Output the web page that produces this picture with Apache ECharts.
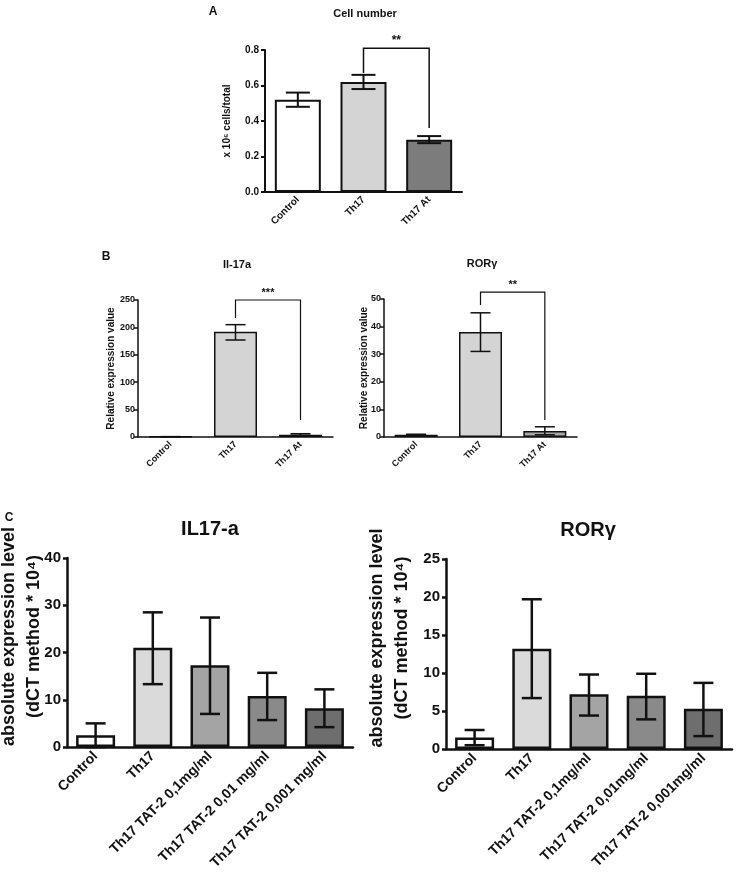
<!DOCTYPE html>
<html><head><meta charset="utf-8">
<script src="https://cdn.jsdelivr.net/npm/echarts/dist/echarts.min.js"></script>
<style>html,body{margin:0;padding:0;background:#fff}#c{width:740px;height:875px}</style>
</head><body><div id="c"></div><script>
// ---- Panel A: Cell number ----
const aCats = ['Control', 'Th17', 'Th17 At'];
const aVals = [0.52, 0.62, 0.295];
const aLow = [0.48, 0.58, 0.275];
const aHigh = [0.56, 0.66, 0.315];
const aTicks = [0, 0.2, 0.4, 0.6, 0.8];
const aBracket = [1, 2, 0.67, 0.81, 0.36];
// ---- Panel B left: Il-17a ----
const bCats = ['Control', 'Th17', 'Th17 At'];
const b1Vals = [0.5, 192, 4];
const b1Low = [0.3, 177, 3];
const b1High = [0.7, 205, 6];
const b1Ticks = [0, 50, 100, 150, 200, 250];
const b1Bracket = [1, 2, 217, 250, 31];
// ---- Panel B right: RORγ ----
const b2Vals = [0.8, 38, 2.2];
const b2Low = [0.6, 31, 0.8];
const b2High = [1.0, 45, 3.7];
const b2Ticks = [0, 10, 20, 30, 40, 50];
const b2Bracket = [1, 2, 47.8, 52.5, 6.2];
// ---- Panel C left: IL17-a ----
const c1Cats = ['Control', 'Th17', 'Th17 TAT-2 0,1mg/ml', 'Th17 TAT-2 0,01 mg/ml', 'Th17 TAT-2 0,001 mg/ml'];
const c1Vals = [2.5, 21, 17.3, 10.8, 8.2];
const c1Low = [0, 13.3, 7, 5.7, 4.2];
const c1High = [5, 28.5, 27.4, 15.7, 12.2];
const c1Ticks = [0, 10, 20, 30, 40];
// ---- Panel C right: RORγ ----
const c2Cats = ['Control', 'Th17', 'Th17 TAT-2 0,1mg/ml', 'Th17 TAT-2 0,01mg/ml', 'Th17 TAT-2 0,001mg/ml'];
const c2Vals = [1.5, 13.2, 7.2, 7.0, 5.3];
const c2Low = [0.5, 6.7, 4.4, 3.9, 1.7];
const c2High = [2.5, 19.7, 9.8, 9.9, 8.7];
const c2Ticks = [0, 5, 10, 15, 20, 25];

const FONT = '"Liberation Sans", Arial, Helvetica, sans-serif';
const INK = '#111';
const abColors = ['#ffffff', '#d4d4d4', '#7c7c7c'];
const b1Colors = ['#ffffff', '#d4d4d4', '#333333'];
const b2Colors = ['#ffffff', '#d4d4d4', '#a8a8a8'];
const cColors = ['#ffffff', '#dadada', '#a4a4a4', '#8a8a8a', '#6e6e6e'];

const chart = echarts.init(document.getElementById('c'), null, {renderer: 'canvas'});

function xAx(gi, cats, fs, lw, margin) {
  return {type: 'category', gridIndex: gi, data: cats,
    axisLine: {lineStyle: {color: INK, width: lw}},
    axisTick: {alignWithLabel: true, length: 4, lineStyle: {color: INK, width: lw}},
    axisLabel: {rotate: 45, fontSize: fs, fontWeight: 'bold', color: INK, fontFamily: FONT, margin: margin, interval: 0},
    splitLine: {show: false}};
}
function yAx(gi, ticks, fs, lw, lblMargin, name, nameFs, nameGap, fmt, lineH, pad) {
  const iv = ticks[1] - ticks[0];
  return {type: 'value', gridIndex: gi, min: ticks[0], max: ticks[ticks.length - 1], interval: iv,
    axisLine: {show: true, lineStyle: {color: INK, width: lw}},
    axisTick: {show: true, length: 4, lineStyle: {color: INK, width: lw}},
    axisLabel: {fontSize: fs, fontWeight: 'bold', color: INK, fontFamily: FONT, margin: lblMargin, formatter: fmt},
    splitLine: {show: false},
    name: name, nameLocation: 'middle', nameGap: nameGap, nameRotate: 90, nameMoveOverlap: false,
    nameTextStyle: {fontSize: nameFs, fontWeight: 'bold', color: INK, fontFamily: FONT, lineHeight: lineH, padding: pad || 0}};
}
function barS(gi, vals, colors, bw, borderW) {
  return {type: 'bar', xAxisIndex: gi, yAxisIndex: gi, barWidth: bw, silent: true,
    data: vals.map((v, i) => ({value: v, itemStyle: {color: colors[i]}})),
    itemStyle: {borderColor: INK, borderWidth: borderW}};
}
function errS(gi, lows, highs, capW, lw) {
  return {type: 'custom', xAxisIndex: gi, yAxisIndex: gi, z: 5, silent: true, clip: false,
    data: lows.map((l, i) => [i, l, highs[i]]),
    renderItem: (p, api) => {
      const x = api.value(0);
      const lo = api.coord([x, api.value(1)]);
      const hi = api.coord([x, api.value(2)]);
      const st = {stroke: INK, lineWidth: lw};
      return {type: 'group', children: [
        {type: 'line', shape: {x1: lo[0], y1: lo[1], x2: hi[0], y2: hi[1]}, style: st},
        {type: 'line', shape: {x1: hi[0] - capW / 2, y1: hi[1], x2: hi[0] + capW / 2, y2: hi[1]}, style: st},
        {type: 'line', shape: {x1: lo[0] - capW / 2, y1: lo[1], x2: lo[0] + capW / 2, y2: lo[1]}, style: st}
      ]};
    }};
}
function brS(gi, br, stars, lw, fs) {
  return {type: 'custom', xAxisIndex: gi, yAxisIndex: gi, z: 6, silent: true, clip: false,
    data: [br],
    renderItem: (p, api) => {
      const a = api.coord([api.value(0), api.value(2)]);
      const t1 = api.coord([api.value(0), api.value(3)]);
      const t2 = api.coord([api.value(1), api.value(3)]);
      const b = api.coord([api.value(1), api.value(4)]);
      return {type: 'group', children: [
        {type: 'polyline', shape: {points: [a, t1, t2, b]}, style: {stroke: INK, lineWidth: lw, fill: null}},
        {type: 'text', x: (t1[0] + t2[0]) / 2, y: t1[1] - 2,
          style: {text: stars, fill: INK, font: 'bold ' + fs + 'px ' + FONT, textAlign: 'center', textVerticalAlign: 'bottom'}}
      ]};
    }};
}

const cName = 'absolute expression level\n(dCT method * 10\u2074)';
const G = (l, t, w, h) => ({left: l, top: t, width: w, height: h, outerBoundsMode: 'none', containLabel: false});
const option = {
  animation: false,
  backgroundColor: '#fff',
  grid: [
    G(265, 50, 197, 142),
    G(138, 300, 195, 137),
    G(384, 299, 193, 138),
    G(67, 558, 286, 189),
    G(446, 559, 286, 190)
  ],
  xAxis: [
    xAx(0, aCats, 10, 2, 6),
    xAx(1, bCats, 9, 1.5, 6),
    xAx(2, bCats, 9, 1.5, 6),
    xAx(3, c1Cats, 14, 2.5, 7),
    xAx(4, c2Cats, 14, 2.5, 7)
  ],
  yAxis: [
    yAx(0, aTicks, 10, 2, 6, 'x 10\u2076 cells/total', 10, 33, v => v.toFixed(1)),
    yAx(1, b1Ticks, 9, 1.5, 3, 'Relative expression value', 10, 22),
    yAx(2, b2Ticks, 9, 1.5, 3, 'Relative expression value', 10, 15),
    yAx(3, c1Ticks, 15, 2.5, 6, cName, 18, 20, undefined, 25, [0, 0, 0, 32]),
    yAx(4, c2Ticks, 15, 2.5, 6, cName, 18, 31, undefined, 25, [0, 0, 0, 32])
  ],
  series: [
    barS(0, aVals, abColors, 46, 2), errS(0, aLow, aHigh, 24, 2), brS(0, aBracket, '**', 1.5, 12),
    barS(1, b1Vals, b1Colors, 43, 1.5), errS(1, b1Low, b1High, 20, 1.5), brS(1, b1Bracket, '***', 1.2, 11),
    barS(2, b2Vals, b2Colors, 43, 1.5), errS(2, b2Low, b2High, 20, 1.5), brS(2, b2Bracket, '**', 1.2, 11),
    barS(3, c1Vals, cColors, 39, 2.5), errS(3, c1Low, c1High, 20, 2.5),
    barS(4, c2Vals, cColors, 39, 2.5), errS(4, c2Low, c2High, 20, 2.5)
  ],
  graphic: [
    {type: 'text', x: 213, y: 12, style: {text: 'A', fill: INK, font: 'bold 12px ' + FONT, textAlign: 'center', textVerticalAlign: 'middle'}},
    {type: 'text', x: 365, y: 14, style: {text: 'Cell number', fill: INK, font: 'bold 11px ' + FONT, textAlign: 'center', textVerticalAlign: 'middle'}},
    {type: 'text', x: 106, y: 257, style: {text: 'B', fill: INK, font: 'bold 12px ' + FONT, textAlign: 'center', textVerticalAlign: 'middle'}},
    {type: 'text', x: 237, y: 265, style: {text: 'Il-17a', fill: INK, font: 'bold 11px ' + FONT, textAlign: 'center', textVerticalAlign: 'middle'}},
    {type: 'text', x: 482, y: 264, style: {text: 'ROR\u03b3', fill: INK, font: 'bold 11px ' + FONT, textAlign: 'center', textVerticalAlign: 'middle'}},
    {type: 'text', x: 9, y: 518, style: {text: 'C', fill: INK, font: 'bold 12px ' + FONT, textAlign: 'center', textVerticalAlign: 'middle'}},
    {type: 'text', x: 210, y: 529, style: {text: 'IL17-a', fill: INK, font: 'bold 20px ' + FONT, textAlign: 'center', textVerticalAlign: 'middle'}},
    {type: 'text', x: 588, y: 530, style: {text: 'ROR\u03b3', fill: INK, font: 'bold 20px ' + FONT, textAlign: 'center', textVerticalAlign: 'middle'}}
  ]
};
chart.setOption(option);
</script></body></html>
